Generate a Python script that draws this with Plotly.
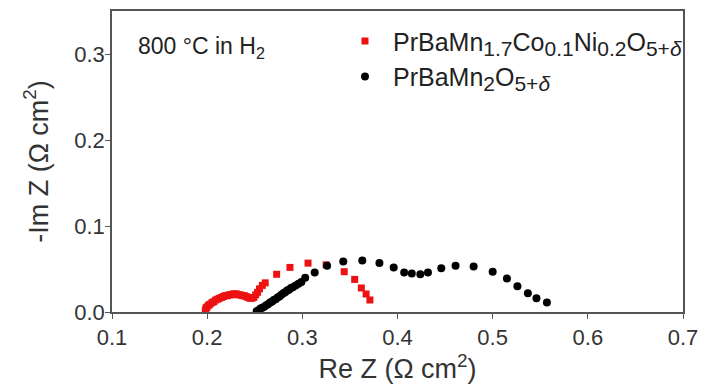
import plotly.graph_objects as go

# PrBaMn1.7Co0.1Ni0.2O5+d (red squares)
red_re = [0.198, 0.1985, 0.199, 0.200, 0.2015, 0.203, 0.205, 0.207, 0.209, 0.211,
          0.213, 0.215, 0.217, 0.219, 0.221, 0.223, 0.225, 0.227, 0.229, 0.231,
          0.233, 0.235, 0.237, 0.239, 0.241, 0.243, 0.245, 0.247, 0.249, 0.251,
          0.253, 0.255, 0.258, 0.261, 0.273, 0.287, 0.306, 0.325, 0.344, 0.355,
          0.362, 0.367, 0.371]
red_im = [0.001, 0.003, 0.005, 0.006, 0.008, 0.009, 0.011, 0.012, 0.014, 0.015,
          0.016, 0.017, 0.018, 0.019, 0.019, 0.020, 0.020, 0.021, 0.021, 0.021,
          0.020, 0.020, 0.019, 0.019, 0.018, 0.017, 0.016, 0.016, 0.017, 0.020,
          0.023, 0.027, 0.031, 0.034, 0.044, 0.052, 0.057, 0.055, 0.047, 0.038,
          0.028, 0.021, 0.014]

# PrBaMn2O5+d (black circles)
blk_re = [0.252, 0.254, 0.256, 0.258, 0.260, 0.262, 0.264, 0.266, 0.268, 0.270,
          0.272, 0.274, 0.276, 0.278, 0.280, 0.282, 0.284, 0.286, 0.288, 0.290,
          0.293, 0.296, 0.299, 0.303, 0.313, 0.326, 0.343, 0.363, 0.381, 0.396,
          0.407, 0.415, 0.424, 0.432, 0.446, 0.461, 0.480, 0.500, 0.515, 0.526,
          0.537, 0.546, 0.557]
blk_im = [0.001, 0.002, 0.004, 0.005, 0.006, 0.008, 0.009, 0.011, 0.012, 0.014,
          0.015, 0.017, 0.018, 0.020, 0.022, 0.023, 0.025, 0.026, 0.028, 0.029,
          0.031, 0.033, 0.035, 0.040, 0.046, 0.054, 0.059, 0.060, 0.057, 0.052,
          0.046, 0.045, 0.044, 0.046, 0.051, 0.054, 0.053, 0.047, 0.039, 0.030,
          0.022, 0.016, 0.011]

x_ticks = [0.1, 0.2, 0.3, 0.4, 0.5, 0.6, 0.7]
y_ticks = [0.0, 0.1, 0.2, 0.3]

FONT = "Arial, Liberation Sans, sans-serif"


def sub(t):
    return '<sub><span style="font-size:21px">' + t + '</span></sub>'


fig = go.Figure()
fig.add_trace(go.Scatter(
    x=red_re, y=red_im, mode="markers",
    name="PrBaMn" + sub("1.7") + "Co" + sub("0.1") + "Ni" + sub("0.2") + "O" + sub("5+<i>δ</i>"),
    marker=dict(symbol="square", size=7, color="#ee1111"),
))
fig.add_trace(go.Scatter(
    x=blk_re, y=blk_im, mode="markers",
    name="PrBaMn" + sub("2") + "O" + sub("5+<i>δ</i>"),
    marker=dict(symbol="circle", size=8, color="#000000"),
))

axis_common = dict(
    showline=True, linecolor="#555555", linewidth=1.5, mirror=True,
    ticks="outside", ticklen=5, tickwidth=1.2, tickcolor="#555555",
    showgrid=False, zeroline=False,
    tickfont=dict(family=FONT, size=22, color="#333333"),
)

fig.update_xaxes(
    range=[0.1, 0.7], tickvals=x_ticks, tickformat=".1f",
    title=dict(text="Re Z (Ω cm<sup>2</sup>)", font=dict(family=FONT, size=27, color="#333333"), standoff=2),
    **axis_common,
)
fig.update_yaxes(
    range=[0.0, 0.351], tickvals=y_ticks, tickformat=".1f", ticklabelstandoff=-4,
    title=dict(text="-Im Z (Ω cm<sup>2</sup>)", font=dict(family=FONT, size=27, color="#333333"), standoff=18),
    **axis_common,
)

fig.add_annotation(
    x=0.042, y=0.88, xref="paper", yref="paper", xanchor="left", yanchor="middle",
    text="800 °C in H<sub>2</sub>", showarrow=False,
    font=dict(family=FONT, size=23, color="#222222"),
)

# the page body has an 8px default margin, so the figure is sized to fit the window
fig.update_layout(
    width=699, height=379,
    margin=dict(l=104, r=24, t=1, b=75),
    paper_bgcolor="white", plot_bgcolor="white",
    showlegend=True,
    legend=dict(
        x=0.394, y=0.976, xanchor="left", yanchor="top",
        bgcolor="rgba(0,0,0,0)", borderwidth=0,
        font=dict(family=FONT, size=25, color="#222222"),
        itemwidth=46, tracegroupgap=0,
    ),
)

fig.write_html("out.html")
